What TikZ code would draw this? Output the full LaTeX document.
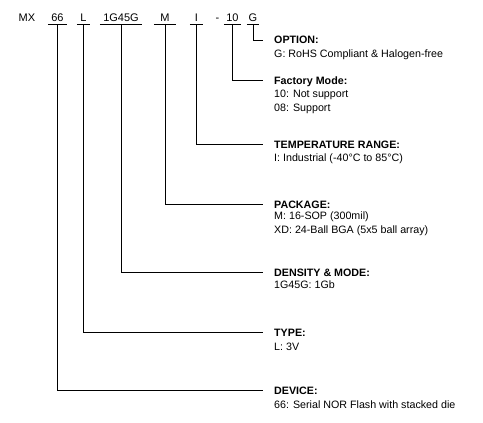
\documentclass[tikz,border=0pt]{standalone}
\usepackage{fontspec}
\setmainfont{Liberation Sans}

\begin{document}
\begin{tikzpicture}[x=1pt,y=-1pt,
  code/.style={font=\fontsize{11}{13}\selectfont, anchor=base, inner xsep=0pt, inner ysep=2.5pt, text depth=0pt},
  ttl/.style={font=\fontsize{10.7}{13}\selectfont\bfseries, anchor=west, inner sep=0pt, text height=8pt, text depth=0pt},
  dsc/.style={font=\fontsize{10.7}{13}\selectfont, anchor=base west, inner sep=0pt},
  lead/.style={line width=0.8pt, shorten >=11pt}]
\useasboundingbox (0,0) rectangle (483,423);
% part number:
\node[code] (mx) at (27,22) {MX};
\node[code, minimum width=19pt] (c66) at (57.5,22) {66};
\node[code, minimum width=13pt] (cl) at (83.5,22) {L};
\node[code, minimum width=42pt] (cden) at (121,22) {1G45G};
\node[code, minimum width=22pt] (cm) at (165,22) {M};
\node[code, minimum width=13pt] (ci) at (196.5,22) {I};
\node[code] (dash) at (217.5,22) {-};
\node[code, minimum width=17pt] (c10) at (232.5,22) {10};
\node[code, minimum width=12pt] (cg) at (253,22) {G};
\foreach \c in {c66,cl,cden,cm,ci,c10,cg}
  \draw[line width=0.8pt] (\c.south west) -- (\c.south east);
% fields:
\node[ttl] (opt) at (274,40) {OPTION:};
\node[dsc] (optd) at (274,57) {G: RoHS Compliant \& Halogen-free};
\node[ttl] (fac) at (274,80) {Factory Mode:};
\node[dsc] (faca) at (274,97) {10: Not support};
\node[dsc] (facb) at (274,111.5) {08: Support};
\node[ttl] (tmp) at (274,144) {TEMPERATURE RANGE:};
\node[dsc] (tmpd) at (274,161) {I: Industrial (-40°C to 85°C)};
\node[ttl] (pkg) at (274,204) {PACKAGE:};
\node[dsc] (pkga) at (274,219) {M: 16-SOP (300mil)};
\node[dsc] (pkgb) at (274,233.5) {XD: 24-Ball BGA (5x5 ball array)};
\node[ttl] (den) at (274,272) {DENSITY \& MODE:};
\node[dsc] (dend) at (274,288) {1G45G: 1Gb};
\node[ttl] (typ) at (274,332) {TYPE:};
\node[dsc] (typd) at (274,350) {L: 3V};
\node[ttl] (dev) at (274,390) {DEVICE:};
\node[dsc] (devd) at (274,408) {66: Serial NOR Flash with stacked die};
% leaders:
\draw[lead] (cg.south) |- (opt.west);
\draw[lead] (c10.south) |- (fac.west);
\draw[lead] (ci.south) |- (tmp.west);
\draw[lead] (cm.south) |- (pkg.west);
\draw[lead] (cden.south) |- (den.west);
\draw[lead] (cl.south) |- (typ.west);
\draw[lead] (c66.south) |- (dev.west);
\end{tikzpicture}
\end{document}
